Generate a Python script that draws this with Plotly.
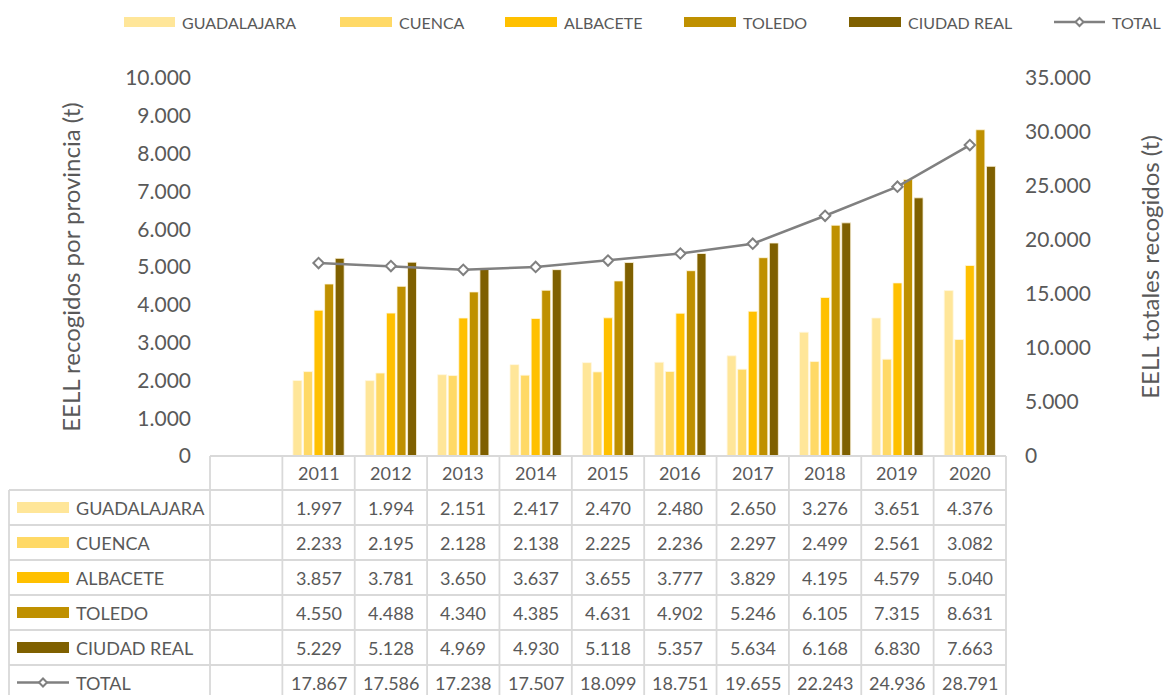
import plotly.graph_objects as go
from plotly.subplots import make_subplots

years = ["2011", "2012", "2013", "2014", "2015", "2016", "2017", "2018", "2019", "2020"]
guadalajara = [1997, 1994, 2151, 2417, 2470, 2480, 2650, 3276, 3651, 4376]
cuenca = [2233, 2195, 2128, 2138, 2225, 2236, 2297, 2499, 2561, 3082]
albacete = [3857, 3781, 3650, 3637, 3655, 3777, 3829, 4195, 4579, 5040]
toledo = [4550, 4488, 4340, 4385, 4631, 4902, 5246, 6105, 7315, 8631]
ciudad_real = [5229, 5128, 4969, 4930, 5118, 5357, 5634, 6168, 6830, 7663]
total = [17867, 17586, 17238, 17507, 18099, 18751, 19655, 22243, 24936, 28791]

series_names = ["GUADALAJARA", "CUENCA", "ALBACETE", "TOLEDO", "CIUDAD REAL"]
series_values = [guadalajara, cuenca, albacete, toledo, ciudad_real]
series_colors = ["#FFE699", "#FFD966", "#FFC000", "#BF9000", "#7F6000"]
total_name = "TOTAL"
line_color = "#808080"
text_color = "#595959"
grid_color = "#D9D9D9"
FONT = "Lato"

# the page body margin is removed (see post_script), so figure pixels = window pixels
W, H = 1164, 695
PL, PR, PT, PB = 210, 1006, 78, 456          # plot area in window pixels
L, T = PL, PT
R, B = W - PR, H - PB
PW, PH = PR - PL, PB - PT


def px(x):
    return (x - PL) / PW


def py(y):
    return (PB - y) / PH


fig = make_subplots(specs=[[{"secondary_y": True}]])

for name, vals, col in zip(series_names, series_values, series_colors):
    fig.add_trace(go.Bar(x=years, y=vals, name=name, marker_color=col,
                         marker_line=dict(color="#FFF8E1", width=0.8),
                         showlegend=False), secondary_y=False)

fig.add_trace(go.Scatter(x=years, y=total, name=total_name, mode="lines+markers",
                         line=dict(color=line_color, width=2.5),
                         marker=dict(symbol="diamond", size=8, color="white",
                                     line=dict(color=line_color, width=2)),
                         showlegend=False), secondary_y=True)

shapes = []
annotations = []
line_style = dict(color=grid_color, width=1.8)

# ---- data table ----
ncol = len(years) + 1
table_left = 9
row_edges = [456, 490, 525, 560, 595, 630, 665, 710]
shapes.append(dict(type="line", xref="paper", yref="paper", x0=0, x1=1,
                   y0=py(456), y1=py(456), line=line_style))
for ry in row_edges[1:]:
    shapes.append(dict(type="line", xref="paper", yref="paper", x0=px(table_left), x1=1,
                       y0=py(ry), y1=py(ry), line=line_style))
shapes.append(dict(type="line", xref="paper", yref="paper", x0=px(table_left), x1=px(table_left),
                   y0=py(490), y1=py(710), line=line_style))
for k in range(ncol + 1):
    xx = k / ncol
    shapes.append(dict(type="line", xref="paper", yref="paper", x0=xx, x1=xx,
                       y0=py(456), y1=py(710), line=line_style))

hdr_y = py(473)
for i, yr in enumerate(years):
    annotations.append(dict(x=i, xref="x", y=hdr_y, yref="paper", yanchor="middle",
                            text=yr, showarrow=False,
                            font=dict(family=FONT, size=18, color=text_color)))

row_centers = [507.5, 542.5, 577.5, 612.5, 647.5, 682.5]
all_rows = list(zip(series_names, series_values)) + [(total_name, total)]
for r, (name, vals) in enumerate(all_rows):
    cy = py(row_centers[r])
    for i, v in enumerate(vals):
        annotations.append(dict(x=i, xref="x", y=cy, yref="paper", yanchor="middle",
                                text=f"{v:,}".replace(",", "."), showarrow=False,
                                font=dict(family=FONT, size=18, color=text_color)))
    annotations.append(dict(x=px(74), xref="paper", y=cy, yref="paper", text=name,
                            xanchor="left", yanchor="middle", showarrow=False,
                            font=dict(family=FONT, size=18, color=text_color)))
    if r < len(series_names):
        shapes.append(dict(type="rect", xref="paper", yref="paper",
                           x0=px(17), x1=px(69), y0=py(row_centers[r] - 5.5), y1=py(row_centers[r] + 5.5),
                           fillcolor=series_colors[r], line=dict(width=0)))


def line_key(x0, x1, yc):
    shapes.append(dict(type="line", xref="paper", yref="paper", x0=px(x0), x1=px(x1),
                       y0=py(yc), y1=py(yc), line=dict(color=line_color, width=2.5)))
    xm = (x0 + x1) / 2
    d = 4
    path = (f"M{px(xm - d)},{py(yc)} L{px(xm)},{py(yc - d)} L{px(xm + d)},{py(yc)} "
            f"L{px(xm)},{py(yc + d)} Z")
    shapes.append(dict(type="path", xref="paper", yref="paper", path=path,
                       fillcolor="white", line=dict(color=line_color, width=2)))


line_key(17, 69, row_centers[5])

# ---- top legend ----
leg_y = 22
leg_swatches = [(124, 175), (340, 392), (505, 557), (684, 736), (849, 901)]
for (x0, x1), name, col in zip(leg_swatches, series_names, series_colors):
    shapes.append(dict(type="rect", xref="paper", yref="paper", x0=px(x0), x1=px(x1),
                       y0=py(leg_y - 5), y1=py(leg_y + 5), fillcolor=col, line=dict(width=0)))
    annotations.append(dict(x=px(x1 + 5), xref="paper", y=py(leg_y), yref="paper", text=name,
                            xanchor="left", yanchor="middle", showarrow=False,
                            font=dict(family=FONT, size=16, color=text_color)))
line_key(1054, 1105, leg_y)
annotations.append(dict(x=px(1110), xref="paper", y=py(leg_y), yref="paper", text=total_name,
                        xanchor="left", yanchor="middle", showarrow=False,
                        font=dict(family=FONT, size=16, color=text_color)))

fig.update_layout(
    width=W, height=H,
    margin=dict(l=L, r=R, t=T, b=B, autoexpand=False),
    paper_bgcolor="white", plot_bgcolor="white",
    separators=",.",
    barmode="group", bargap=0.27, bargroupgap=0.15,
    font=dict(family=FONT, color=text_color),
    shapes=shapes, annotations=annotations,
    showlegend=False,
)
fig.update_xaxes(type="category", categoryarray=years, range=[-1.5, len(years) - 0.5],
                 domain=[0, 1],
                 showticklabels=False, showgrid=False, showline=False, ticks="", zeroline=False)
fig.update_yaxes(range=[0, 10000], dtick=1000, tickformat=",.0f", showgrid=False, zeroline=False,
                 showline=False, ticks="", ticklabelstandoff=18,
                 tickfont=dict(family=FONT, size=21, color=text_color),
                 title=dict(text="EELL recogidos por provincia (t)", standoff=37,
                            font=dict(family=FONT, size=24, color=text_color)),
                 secondary_y=False)
fig.update_yaxes(range=[0, 35000], dtick=5000, tickformat=",.0f", showgrid=False, zeroline=False,
                 showline=False, ticks="", ticklabelstandoff=18,
                 tickfont=dict(family=FONT, size=21, color=text_color),
                 title=dict(text="EELL totales recogidos (t)", standoff=53,
                            font=dict(family=FONT, size=24, color=text_color)),
                 secondary_y=True)

fig.write_html("out.html", config={"displayModeBar": False},
               post_script="document.body.style.margin='0';document.body.style.overflow='hidden';")
